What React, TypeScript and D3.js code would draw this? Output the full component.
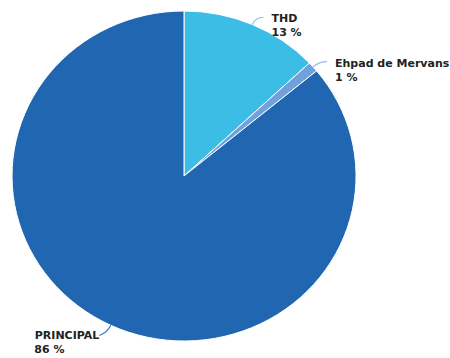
import React from "react";
import * as d3 from "d3";

const categories = ["THD", "Ehpad de Mervans", "PRINCIPAL"];
const values = [13, 1, 86];
const labels = ["13 %", "1 %", "86 %"];
const colors = ["#3bbde6", "#6fa2dc", "#2166b0"];
const leaderColors = ["#6ec9e8", "#9bbbe0", "#3c78bb"];

export default function App() {
  const W = 450, H = 358;
  const cx = 184, cy = 176, rx = 172, ry = 165;
  const pie = d3.pie<number>().sort(null).value((d) => d);
  const arcs = pie(values);
  const arc = d3.arc<d3.PieArcDatum<number>>().innerRadius(0).outerRadius(1);
  return (
    <svg width={W} height={H} style={{ position: "absolute", left: 0, top: 0 }}>
      <g transform={`translate(${cx},${cy}) scale(${rx},${ry})`}>
        {arcs.map((a, i) => (
          <path
            key={i}
            d={arc(a) || ""}
            fill={colors[i]}
            stroke="#ffffff"
            strokeWidth={1}
            vectorEffect="non-scaling-stroke"
          />
        ))}
      </g>
      {arcs.map((a, i) => {
        const mid = (a.startAngle + a.endAngle) / 2;
        const sx = Math.sin(mid), sy = -Math.cos(mid);
        const x0 = cx + rx * sx, y0 = cy + ry * sy;
        const x1 = x0 + sx * 8, y1 = y0 + sy * 8;
        const right = sx >= 0;
        const x2 = x1 + (right ? 8 : -8);
        const y2 = y1 - (right ? 0 : -3);
        const tx = right ? x2 + 8 : x2;
        const ty = right ? y2 + 5 : y2 + 3;
        return (
          <g key={"l" + i}>
            <path
              d={`M${x0},${y0} Q${x1},${y1} ${x2},${y2}`}
              fill="none"
              stroke={leaderColors[i]}
              strokeWidth={1.2}
            />
            <text
              x={tx}
              y={ty}
              textAnchor={right ? "start" : "end"}
              fontFamily="DejaVu Sans"
              fontWeight="bold"
              fontSize={11}
              fill="#222"
            >
              <tspan x={tx}>{categories[i]}</tspan>
              <tspan x={right ? tx : tx - 65} dy={14} textAnchor="start">{labels[i]}</tspan>
            </text>
          </g>
        );
      })}
    </svg>
  );
}
